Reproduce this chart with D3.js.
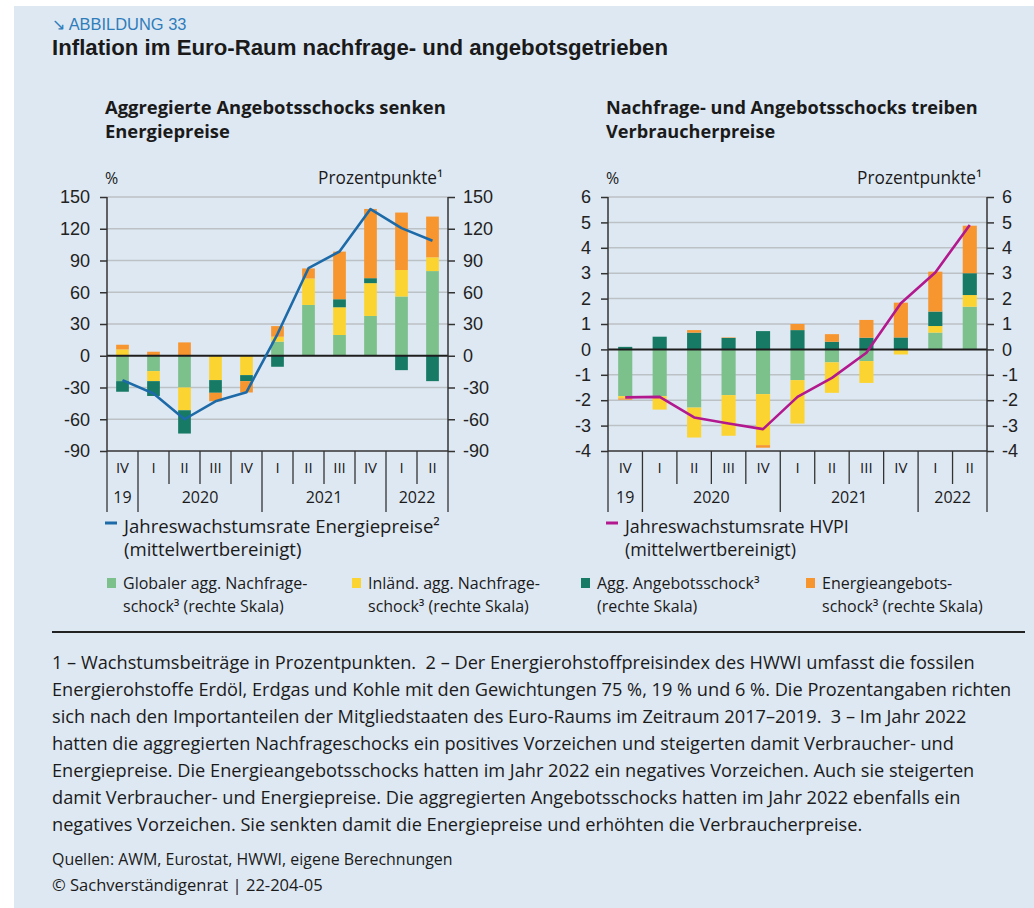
<!DOCTYPE html>
<html><head><meta charset="utf-8">
<script src="https://cdn.jsdelivr.net/npm/d3@7"></script>
<style>
html,body{margin:0;padding:0;background:#fff;}
svg{display:block;}
text{white-space:pre;}
</style></head>
<body>
<svg id="c" width="1034" height="908"></svg>
<script>
// ---------- DATA ----------
const quarters = ["IV","I","II","III","IV","I","II","III","IV","I","II"];
const years = [{label:"19", from:0, to:0},{label:"2020", from:1, to:4},{label:"2021", from:5, to:8},{label:"2022", from:9, to:10}];

// Left panel: energy prices (Prozentpunkte / %)
const energyGlobalDemand   = [-24, -14.5, -30, 0, 0, 13.3, 48, 19.6, 37.6, 56, 80];
const energyDomesticDemand = [6, -9.5, -21.5, -23, -18.3, 4.7, 25, 26.2, 31, 25, 13];
const energyAggSupply      = [-10, -14, -22, -12, -5.7, -10.4, 0, 7.6, 4.7, -13.6, -24];
const energyEnergySupply   = [4.4, 3.8, 12.6, -8, -10.7, 10, 9.5, 45, 65.4, 54.3, 38.5];
const energyGrowthRate     = [-23, -35.7, -60, -43, -34.4, 20.5, 82.7, 98.5, 138.6, 120.6, 108.6];
const energyTicks = [150,120,90,60,30,0,-30,-60,-90];

// Right panel: HICP
const hicpGlobalDemand   = [-1.84, -1.84, -2.29, -1.8, -1.76, -1.21, -0.51, -0.46, 0, 0.66, 1.68];
const hicpDomesticDemand = [-0.09, -0.53, -1.18, -1.6, -2.01, -1.71, -1.2, -0.86, -0.2, 0.26, 0.46];
const hicpAggSupply      = [0.1, 0.5, 0.66, 0.45, 0.72, 0.76, 0.3, 0.46, 0.47, 0.57, 0.86];
const hicpEnergySupply   = [-0.05, 0, 0.1, 0.02, -0.1, 0.24, 0.3, 0.7, 1.37, 1.57, 1.87];
const hicpGrowthRate     = [-1.89, -1.87, -2.68, -2.92, -3.14, -1.87, -1.12, -0.13, 1.82, 3.03, 4.9];
const hicpTicks = [6,5,4,3,2,1,0,-1,-2,-3,-4];

const seriesKeys = ["global","domestic","supply","energy"];
const seriesColors = ["#7cc08c","#fcd431","#167a64","#f7952f"];
const seriesLabels = [
  ["Globaler agg. Nachfrage-","schock³ (rechte Skala)"],
  ["Inländ. agg. Nachfrage-","schock³ (rechte Skala)"],
  ["Agg. Angebotsschock³","(rechte Skala)"],
  ["Energieangebots-","schock³ (rechte Skala)"]
];

// ---------- DRAW ----------
const svg = d3.select("#c");
const BG = "#dee8f2";
svg.append("rect").attr("x",14).attr("y",6).attr("width",1020).attr("height",902).attr("fill",BG);

const SANS = "'Open Sans', 'Liberation Sans', sans-serif";
const NUM = "'Liberation Sans', Arial, sans-serif";
const TXT = "#1a1a1a";

function fit(sel, target){
  const w = sel.node().getComputedTextLength();
  const fs = parseFloat(sel.attr("font-size"));
  sel.attr("font-size", (fs*target/w).toFixed(2));
}

// header
const ab = svg.append("text").attr("x",52).attr("y",30).attr("font-family","'Liberation Sans Narrow', 'Liberation Sans', sans-serif")
  .attr("font-size",17).attr("fill","#2f7dbb").text("↘ ABBILDUNG 33");
fit(ab,135);
const tt = svg.append("text").attr("x",52).attr("y",55).attr("font-family","'Liberation Sans', Arial, sans-serif")
  .attr("font-weight","bold").attr("font-size",20).attr("fill",TXT).text("Inflation im Euro-Raum nachfrage- und angebotsgetrieben");
fit(tt,616);

function panel(cfg){
  const g = svg.append("g");
  const y = d3.scaleLinear().domain(cfg.domain).range([451,197]);
  const x = d3.scaleBand().domain(d3.range(quarters.length)).range([cfg.x0,cfg.x1]);
  const bw = x.step()*0.41;

  // subtitle
  let subFs = 17;
  cfg.subtitle.forEach((s,i)=>{
    const t = g.append("text").attr("x",cfg.x0-2).attr("y",114+24*i).attr("font-family",SANS)
      .attr("font-weight","bold").attr("font-size",subFs).attr("fill",TXT).text(s);
    if(i===0){ fit(t,cfg.subW); subFs = t.attr("font-size"); }
  });
  g.append("text").attr("x",cfg.x0-2).attr("y",184).attr("font-family",SANS).attr("font-size",16).attr("fill",TXT).text("%");
  const pp = g.append("text").attr("x",cfg.x1-5).attr("y",184).attr("text-anchor","end").attr("font-family",SANS).attr("font-size",16).attr("fill",TXT).text("Prozentpunkte¹");
  fit(pp,125);

  // grid
  g.append("g").selectAll("line").data(cfg.ticks.filter(t=>t!==0 && t!==cfg.domain[0])).join("line")
    .attr("x1",cfg.x0).attr("x2",cfg.x1).attr("y1",d=>y(d)).attr("y2",d=>y(d))
    .attr("stroke","#bcc1c6").attr("stroke-width",1.5);

  // bars
  const rows = quarters.map((q,i)=>({global:cfg.s[0][i],domestic:cfg.s[1][i],supply:cfg.s[2][i],energy:cfg.s[3][i]}));
  const stack = d3.stack().keys(seriesKeys).offset(d3.stackOffsetDiverging)(rows);
  stack.forEach((layer,k)=>{
    g.append("g").attr("fill",seriesColors[k]).selectAll("rect").data(layer).join("rect")
      .attr("x",(d,i)=>x(i)+x.bandwidth()/2-bw/2).attr("width",bw)
      .attr("y",d=>y(Math.max(d[0],d[1]))).attr("height",d=>Math.abs(y(d[0])-y(d[1])));
  });

  // zero line
  g.append("line").attr("x1",cfg.x0).attr("x2",cfg.x1).attr("y1",y(0)).attr("y2",y(0)).attr("stroke","#1e1e1e").attr("stroke-width",2);

  // axes
  const fmt = d=>String(d);
  const yl = g.append("g").attr("transform",`translate(${cfg.x0},0)`).call(d3.axisLeft(y).tickValues(cfg.ticks).tickSize(7).tickPadding(10).tickFormat(fmt));
  const yr = g.append("g").attr("transform",`translate(${cfg.x1},0)`).call(d3.axisRight(y).tickValues(cfg.ticks).tickSize(7).tickPadding(8).tickFormat(fmt));
  [yl,yr].forEach(a=>{
    a.select(".domain").attr("stroke","#333").attr("stroke-width",1.5).attr("d",`M0,${y(cfg.domain[1])}V${y(cfg.domain[0])}`);
    a.selectAll(".tick line").attr("stroke","#333").attr("stroke-width",1.5);
    a.selectAll(".tick text").attr("font-family",NUM).attr("font-size",18).attr("fill","#222");
  });
  g.append("line").attr("x1",cfg.x0).attr("x2",cfg.x1).attr("y1",y(cfg.domain[0])).attr("y2",y(cfg.domain[0])).attr("stroke","#333").attr("stroke-width",1.5);

  // line
  const line = d3.line().x((d,i)=>x(i)+x.bandwidth()/2).y(d=>y(d));
  g.append("path").datum(cfg.line).attr("d",line).attr("fill","none").attr("stroke",cfg.lineColor).attr("stroke-width",2.6).attr("stroke-linejoin","round");

  // category axis
  const yb = y(cfg.domain[0]);
  const yearStarts = new Set(years.map(d=>d.from));
  d3.range(quarters.length+1).forEach(i=>{
    const xx = i<quarters.length ? x(i) : cfg.x1;
    const long = yearStarts.has(i) || i===quarters.length;
    g.append("line").attr("x1",xx).attr("x2",xx).attr("y1",yb).attr("y2",long?512:484).attr("stroke","#333").attr("stroke-width",1.3);
  });
  g.append("g").selectAll("text").data(quarters).join("text")
    .attr("x",(d,i)=>x(i)+x.bandwidth()/2).attr("y",473).attr("text-anchor","middle")
    .attr("font-family",SANS).attr("font-size",15).attr("fill",TXT).text(d=>d);
  g.append("g").selectAll("text").data(years).join("text")
    .attr("x",d=>(x(d.from)+x(d.to)+x.bandwidth())/2).attr("y",503).attr("text-anchor","middle")
    .attr("font-family",SANS).attr("font-size",16).attr("fill",TXT).text(d=>d.label);

  // line legend
  g.append("line").attr("x1",cfg.x0-2).attr("x2",cfg.x0+10).attr("y1",523).attr("y2",523).attr("stroke",cfg.lineColor).attr("stroke-width",3);
  const ll = g.append("text").attr("x",cfg.x0+17).attr("y",533).attr("font-family",SANS).attr("font-size",16).attr("fill",TXT).text(cfg.lineLabel);
  fit(ll,cfg.lineLabelW);
  g.append("text").attr("x",cfg.x0+17).attr("y",556).attr("font-family",SANS).attr("font-size",ll.attr("font-size")).attr("fill",TXT).text("(mittelwertbereinigt)");
}

panel({x0:107,x1:448,domain:[-90,150],ticks:energyTicks,
  s:[energyGlobalDemand,energyDomesticDemand,energyAggSupply,energyEnergySupply],
  line:energyGrowthRate,lineColor:"#1d6aa8",
  subtitle:["Aggregierte Angebotsschocks senken","Energiepreise"],subW:341,
  lineLabel:"Jahreswachstumsrate Energiepreise²",lineLabelW:316});
panel({x0:608,x1:987,domain:[-4,6],ticks:hicpTicks,
  s:[hicpGlobalDemand,hicpDomesticDemand,hicpAggSupply,hicpEnergySupply],
  line:hicpGrowthRate,lineColor:"#b3198e",
  subtitle:["Nachfrage- und Angebotsschocks treiben","Verbraucherpreise"],subW:372,
  lineLabel:"Jahreswachstumsrate HVPI",lineLabelW:224});

// bar legend
const legX = [107,352,581,806];
const lg = svg.append("g");
seriesLabels.forEach((lab,k)=>{
  lg.append("rect").attr("x",legX[k]).attr("y",578).attr("width",9).attr("height",10).attr("fill",seriesColors[k]);
  lab.forEach((s,j)=>{
    lg.append("text").attr("x",legX[k]+16).attr("y",589+23*j).attr("font-family",SANS).attr("font-size",16).attr("fill",TXT).text(s);
  });
});

// rule
svg.append("line").attr("x1",52).attr("x2",1025).attr("y1",632).attr("y2",632).attr("stroke","#222").attr("stroke-width",2.2);

// footnotes
const notes = [
  ["1 – Wachstumsbeiträge in Prozentpunkten.  2 – Der Energierohstoffpreisindex des HWWI umfasst die fossilen",908],
  ["Energierohstoffe Erdöl, Erdgas und Kohle mit den Gewichtungen 75 %, 19 % und 6 %. Die Prozentangaben richten",1012],
  ["sich nach den Importanteilen der Mitgliedstaaten des Euro-Raums im Zeitraum 2017–2019.  3 – Im Jahr 2022",978],
  ["hatten die aggregierten Nachfrageschocks ein positives Vorzeichen und steigerten damit Verbraucher- und",951],
  ["Energiepreise. Die Energieangebotsschocks hatten im Jahr 2022 ein negatives Vorzeichen. Auch sie steigerten",986],
  ["damit Verbraucher- und Energiepreise. Die aggregierten Angebotsschocks hatten im Jahr 2022 ebenfalls ein",967],
  ["negatives Vorzeichen. Sie senkten damit die Energiepreise und erhöhten die Verbraucherpreise.",862]
];
const fn = svg.append("g");
const ratios = [];
notes.forEach((n,i)=>{
  const t = fn.append("text").attr("x",52).attr("y",669+27*i).attr("font-family",SANS).attr("font-size",16).attr("fill",TXT).text(n[0]);
  ratios.push((n[1]-52)/t.node().getComputedTextLength());
});
const fr = d3.median(ratios);
fn.selectAll("text").attr("font-size",(16*fr).toFixed(2));

const q1 = svg.append("text").attr("x",52).attr("y",865).attr("font-family",SANS).attr("font-size",14).attr("fill",TXT).text("Quellen: AWM, Eurostat, HWWI, eigene Berechnungen");
fit(q1,401);
const q2 = svg.append("text").attr("x",52).attr("y",891).attr("font-family",SANS).attr("font-size",15).attr("fill",TXT).text("© Sachverständigenrat | 22-204-05");
fit(q2,271);
</script>
</body></html>
